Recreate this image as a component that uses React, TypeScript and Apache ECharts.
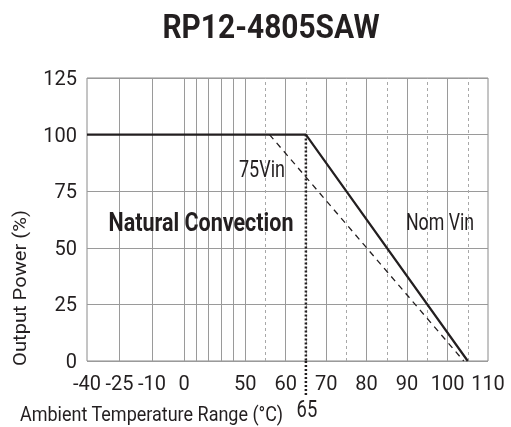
import React, { useEffect, useRef } from "react";
import * as echarts from "echarts";

// ---- data ----
const TITLE = "RP12-4805SAW";
// piecewise axis: temperature knots and their positions on the (non-linear) printed axis
const X_KNOTS = [-40, -25, -10, 0, 50, 110];
const X_POS = [0, 32.6, 65, 97.3, 158.3, 401.3];
const xLabelTemps = [-40, -25, -10, 0, 50, 60, 70, 80, 90, 100, 110];
const solidGridTemps = [-25, -10, 0, 10, 20, 30, 40, 50, 60, 70, 80, 90, 100];
const dashedGridTemps = [55, 65, 75, 85, 95, 105];

const nomVinTemps = [-40, 65, 105];
const nomVinPower = [100, 100, 0];
const vin75Temps = [56, 104];
const vin75Power = [100, 0];
const markerTemp = 65;
const markerPower = [100, 0];

const FONT = "Roboto, sans-serif";
const INK = "#231f20";

function toAxis(t: number): number {
  for (let i = 0; i < X_KNOTS.length - 1; i++) {
    if (t <= X_KNOTS[i + 1] || i === X_KNOTS.length - 2) {
      const f = (t - X_KNOTS[i]) / (X_KNOTS[i + 1] - X_KNOTS[i]);
      return X_POS[i] + f * (X_POS[i + 1] - X_POS[i]);
    }
  }
  return 0;
}

export default function App() {
  const ref = useRef<HTMLDivElement>(null);
  useEffect(() => {
    if (!ref.current) return;
    const chart = echarts.init(ref.current, undefined, { renderer: "svg" });
    const gridLine = (temps: number[], type: any, color: string) => ({
      type: "line",
      data: [],
      silent: true,
      markLine: {
        silent: true,
        symbol: "none",
        animation: false,
        label: { show: false },
        lineStyle: { color, width: 1, type },
        data: temps.map((t) => ({ xAxis: toAxis(t) })),
      },
    });
    const option: any = {
      animation: false,
      grid: { left: 87, right: 23, top: 78, bottom: 66, show: true, borderColor: "#8a8a8a", borderWidth: 1 },
      xAxis: {
        type: "value",
        min: X_POS[0],
        max: X_POS[X_POS.length - 1],
        axisLine: { show: false },
        axisTick: { show: false },
        splitLine: { show: false },
        axisLabel: {
          customValues: xLabelTemps.map(toAxis),
          showMinLabel: true,
          showMaxLabel: true,
          formatter: (v: number) => {
            const t = xLabelTemps.find((tt) => Math.abs(toAxis(tt) - v) < 0.01);
            return t === undefined ? "" : String(t);
          },
          fontFamily: FONT,
          fontSize: 20,
          lineHeight: 20,
          color: INK,
          margin: 12,
        },
      },
      yAxis: {
        type: "value",
        min: 0,
        max: 125,
        interval: 25,
        axisLine: { show: false },
        axisTick: { show: false },
        splitLine: { show: true, lineStyle: { color: "#9a9a9a", width: 1 } },
        axisLabel: { fontFamily: FONT, fontSize: 20, lineHeight: 17, color: INK, margin: 10, showMinLabel: true, showMaxLabel: true },
      },
      series: [
        gridLine(solidGridTemps, "solid", "#9a9a9a"),
        gridLine(dashedGridTemps, [3, 3], "#a8a8a8"),
        {
          type: "line",
          name: "Nom Vin",
          data: nomVinTemps.map((t, i) => [toAxis(t), nomVinPower[i]]),
          symbol: "none",
          lineStyle: { color: INK, width: 2.2 },
          z: 5,
        },
        {
          type: "line",
          name: "75Vin",
          data: vin75Temps.map((t, i) => [toAxis(t), vin75Power[i]]),
          symbol: "none",
          lineStyle: { color: INK, width: 1.3, type: [6, 5] },
          z: 5,
        },
        {
          type: "line",
          name: "65",
          data: markerPower.map((p) => [toAxis(markerTemp), p]),
          symbol: "none",
          lineStyle: { color: INK, width: 2.5, type: [2, 2] },
          z: 6,
        },
      ],
    };
    chart.setOption(option);
    const [mx, my0] = chart.convertToPixel({ gridIndex: 0 }, [toAxis(markerTemp), 0]) as number[];
    chart.setOption({
      graphic: [
        {
          type: "text",
          x: 271,
          y: 26,
          scaleX: 0.88,
          style: { text: TITLE, font: `bold 34px ${FONT}`, fill: INK, align: "center", verticalAlign: "middle" },
        },
        {
          type: "line",
          shape: { x1: mx, y1: my0, x2: mx, y2: my0 + 36 },
          style: { stroke: INK, lineWidth: 2.5, lineDash: [2, 2] },
        },
        {
          type: "text",
          x: mx + 1,
          y: 409,
          scaleX: 0.8,
          style: { text: "65", font: `23px ${FONT}`, fill: INK, align: "center", verticalAlign: "middle" },
        },
        {
          type: "text",
          x: 20,
          y: 414,
          scaleX: 0.9,
          style: { text: "Ambient Temperature Range (°C)", font: `20px ${FONT}`, fill: INK, align: "left", verticalAlign: "middle" },
        },
        {
          type: "text",
          x: 20,
          y: 288,
          rotation: Math.PI / 2,
          scaleX: 1.06,
          style: { text: "Output Power (%)", font: `19px ${FONT}`, fill: INK, align: "center", verticalAlign: "middle" },
        },
        {
          type: "text",
          x: 201,
          y: 222,
          z: 10,
          scaleX: 0.86,
          style: { text: "Natural Convection", font: `bold 25px ${FONT}`, fill: INK, align: "center", verticalAlign: "middle" },
        },
        {
          type: "text",
          x: 262,
          y: 169,
          z: 10,
          scaleX: 0.75,
          style: { text: "75Vin", font: `24px ${FONT}`, fill: INK, align: "center", verticalAlign: "middle" },
        },
        {
          type: "text",
          x: 440,
          y: 221,
          z: 10,
          scaleX: 0.74,
          style: { text: "Nom Vin", font: `24px ${FONT}`, fill: INK, align: "center", verticalAlign: "middle" },
        },
      ],
    });
    return () => chart.dispose();
  }, []);
  return <div ref={ref} style={{ position: "fixed", left: 0, top: 0, width: 511, height: 427 }} />;
}
